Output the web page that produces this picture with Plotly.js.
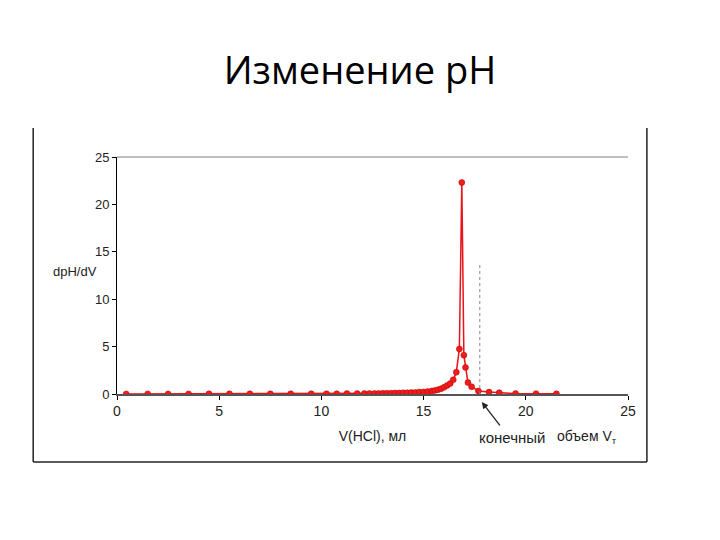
<!DOCTYPE html>
<html>
<head>
<meta charset="utf-8">
<script src="https://cdn.plot.ly/plotly-3.0.1.min.js"></script>
<style>
html,body{margin:0;padding:0;background:#fff;}
#chart{width:720px;height:540px;}
</style>
</head>
<body>
<div id="chart"></div>
<script>
// Data
const volumeHCl = [0.45,1.5,2.5,3.5,4.5,5.5,6.5,7.5,8.5,9.5,10.25,10.75,11.25,11.75,12.1,12.35,12.6,12.8,13.0,13.2,13.4,13.6,13.8,14.0,14.2,14.4,14.6,14.8,15.0,15.2,15.4,15.55,15.7,15.85,16.0,16.15,16.3,16.45,16.6,16.75,16.87,16.97,17.05,17.17,17.35,17.68,18.2,18.7,19.5,20.5,21.5];
const dpHdV = [0.01,0.01,0.01,0.01,0.02,0.02,0.02,0.02,0.02,0.03,0.03,0.03,0.04,0.04,0.05,0.05,0.06,0.06,0.07,0.08,0.09,0.1,0.11,0.12,0.13,0.15,0.17,0.2,0.22,0.26,0.32,0.38,0.45,0.55,0.7,0.9,1.1,1.5,2.3,4.75,22.3,4.1,2.8,1.2,0.77,0.32,0.2,0.14,0.04,0.03,0.02];
const xTicks = [0,5,10,15,20,25];
const yTicks = [0,5,10,15,20,25];
const endpointV = 17.75;
const endpointMarkTop = 13.6;

const trace = {
  x: volumeHCl, y: dpHdV, type: 'scatter', mode: 'lines+markers',
  line: {color: '#e8141a', width: 1.5},
  marker: {color: '#ee1c1c', size: 6, line: {color: '#c00000', width: 0.5}},
  showlegend: false, hoverinfo: 'skip'
};

const frame = {type: 'line', xref: 'paper', yref: 'paper', line: {color: '#222', width: 1.5}};
const layout = {
  width: 720, height: 540,
  margin: {l: 117, r: 92, t: 157, b: 146},
  paper_bgcolor: '#fff', plot_bgcolor: '#fff',
  title: {text: 'Изменение pH', x: 0.5, xref: 'container', xanchor: 'center', y: 0.87, yref: 'container', yanchor: 'middle',
          font: {family: 'Open Sans, Noto Sans, sans-serif', size: 38, color: '#000'}},
  xaxis: {range: [0, 25], tickvals: xTicks, ticks: 'outside', ticklen: 4, tickcolor: '#000',
          showgrid: false, zeroline: false, showline: true, linecolor: '#555', linewidth: 1.5,
          tickfont: {family: 'Liberation Sans, Arial, sans-serif', size: 14, color: '#222'},
          title: {text: 'V(HCl), мл', standoff: 13, font: {family: 'Liberation Sans, Arial, sans-serif', size: 14, color: '#222'}}},
  yaxis: {range: [0, 25], tickvals: yTicks, ticks: 'outside', ticklen: 4, tickcolor: '#000',
          showgrid: false, zeroline: false, showline: true, linecolor: '#000', linewidth: 1,
          tickfont: {family: 'Liberation Sans, Arial, sans-serif', size: 13, color: '#222'}},
  shapes: [
    {type: 'line', xref: 'paper', yref: 'paper', x0: 0, x1: 1, y0: 1, y1: 1, line: {color: '#aaa', width: 1.5}},
    {type: 'line', xref: 'x', yref: 'y', x0: endpointV, x1: endpointV, y0: 0, y1: endpointMarkTop, line: {color: '#888', width: 1, dash: 'dot'}},
    Object.assign({}, frame, {x0: -0.164, x1: -0.164, y0: 1.122, y1: -0.287}),
    Object.assign({}, frame, {x0: 1.037, x1: 1.037, y0: 1.122, y1: -0.287}),
    Object.assign({}, frame, {x0: -0.164, x1: 1.037, y0: -0.287, y1: -0.287})
  ],
  annotations: [
    {text: 'dpH/dV', xref: 'paper', yref: 'y', x: -0.082, y: 12.9, showarrow: false, xanchor: 'center', yanchor: 'middle',
     font: {family: 'Liberation Sans, Arial, sans-serif', size: 13, color: '#222'}},
    {text: ' ', xref: 'paper', yref: 'paper', x: 0.714, y: -0.034, showarrow: true, arrowhead: 2, arrowsize: 1, arrowwidth: 1.3,
     arrowcolor: '#222', ax: 20, ay: 26, font: {size: 2}},
    {text: 'конечный', xref: 'paper', yref: 'paper', x: 0.773, y: -0.185, showarrow: false, xanchor: 'center', yanchor: 'middle',
     font: {family: 'Liberation Sans, Arial, sans-serif', size: 15, color: '#222'}},
    {text: 'объем V<sub>т</sub>', xref: 'paper', yref: 'paper', x: 0.92, y: -0.18, showarrow: false, xanchor: 'center', yanchor: 'middle',
     font: {family: 'Liberation Sans, Arial, sans-serif', size: 14, color: '#222'}}
  ]
};

Plotly.newPlot('chart', [trace], layout, {displayModeBar: false, staticPlot: true});
</script>
</body>
</html>
